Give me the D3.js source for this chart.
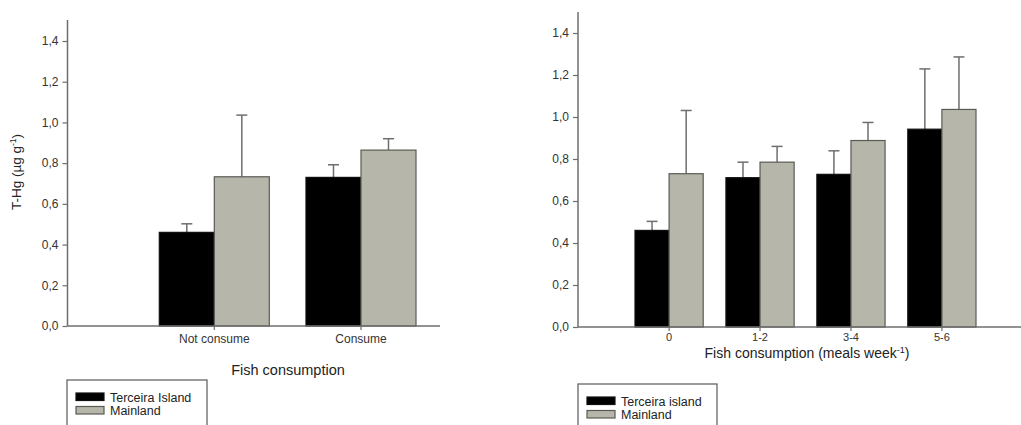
<!DOCTYPE html>
<html><head><meta charset="utf-8">
<script src="https://cdn.jsdelivr.net/npm/d3@7"></script>
<style>
body{margin:0;background:#fff;}
svg{display:block;font-family:"Liberation Sans",Arial,sans-serif;}
</style></head>
<body>
<svg id="chart" width="1021" height="425"></svg>
<script>
// ---- data ----
const seriesNames = ["Terceira Island", "Mainland"];
const seriesNamesRight = ["Terceira island", "Mainland"];
const yTicks = [0, 0.2, 0.4, 0.6, 0.8, 1.0, 1.2, 1.4];

const leftCategories = ["Not consume", "Consume"];
const leftTerceira = [0.46, 0.73];
const leftTerceiraErr = [0.042, 0.062];
const leftMainland = [0.733, 0.864];
const leftMainlandErr = [0.303, 0.056];

const rightCategories = ["0", "1-2", "3-4", "5-6"];
const rightTerceira = [0.46, 0.711, 0.727, 0.942];
const rightTerceiraErr = [0.043, 0.074, 0.112, 0.287];
const rightMainland = [0.73, 0.785, 0.888, 1.036];
const rightMainlandErr = [0.301, 0.075, 0.086, 0.25];

// ---- styles ----
const fills = ["#000000", "#b6b6aa"];
const axisColor = "#6e6e6e";
const fmt = d => d3.format(".1f")(d).replace(".", ",");

const svg = d3.select("#chart");

function panel(cfg) {
  const g = svg.append("g");
  const y = d3.scaleLinear().domain([0, 1.4]).range([cfg.y0, cfg.y14]);
  const x = d3.scaleBand().domain(cfg.categories).range([cfg.barL, cfg.barR])
    .paddingInner(0.25).paddingOuter(0);
  const xs = d3.scaleBand().domain([0, 1]).range([0, x.bandwidth()]);

  const rows = [];
  cfg.categories.forEach((c, i) => {
    rows.push({c, s: 0, v: cfg.terceira[i], e: cfg.terceiraErr[i]});
    rows.push({c, s: 1, v: cfg.mainland[i], e: cfg.mainlandErr[i]});
  });

  // error bars (upper)
  const eb = g.append("g").attr("stroke", axisColor).attr("stroke-width", 1.5);
  rows.forEach(r => {
    const cx = x(r.c) + xs(r.s) + xs.bandwidth() / 2;
    eb.append("line").attr("x1", cx).attr("x2", cx).attr("y1", y(r.v)).attr("y2", y(r.v + r.e));
    eb.append("line").attr("x1", cx - 5.5).attr("x2", cx + 5.5).attr("y1", y(r.v + r.e)).attr("y2", y(r.v + r.e));
  });

  // bars
  g.append("g").selectAll("rect").data(rows).join("rect")
    .attr("x", r => x(r.c) + xs(r.s))
    .attr("y", r => y(r.v))
    .attr("width", xs.bandwidth())
    .attr("height", r => y(0) - y(r.v))
    .attr("fill", r => fills[r.s])
    .attr("stroke", r => r.s === 0 ? "#111" : "#5a5a55")
    .attr("stroke-width", 1.2);

  // y axis
  const ya = g.append("g").attr("transform", `translate(${cfg.axisX},0)`)
    .call(d3.axisLeft(y).tickValues(yTicks).tickFormat(fmt).tickSize(5).tickPadding(4));
  ya.select(".domain").remove();
  ya.append("line").attr("x1", 0).attr("x2", 0).attr("y1", cfg.axisTop).attr("y2", cfg.y0)
    .attr("stroke", axisColor).attr("stroke-width", 1.5);
  ya.selectAll(".tick line").attr("stroke", axisColor).attr("stroke-width", 1.2);
  ya.selectAll(".tick text").attr("fill", "#333").style("font-size", "12px")
    .style("font-family", "'Liberation Sans',Arial,sans-serif");

  // x axis
  const xa = g.append("g").attr("transform", `translate(0,${cfg.y0})`)
    .call(d3.axisBottom(x).tickSize(4).tickPadding(cfg.xTickPad));
  xa.select(".domain").remove();
  xa.append("line").attr("x1", cfg.axisX).attr("x2", cfg.axisRight).attr("y1", 0).attr("y2", 0)
    .attr("stroke", axisColor).attr("stroke-width", 1.5);
  xa.selectAll(".tick line").attr("stroke", axisColor).attr("stroke-width", 1.2);
  xa.selectAll(".tick text").attr("fill", "#333").style("font-size", cfg.xTickSize)
    .style("font-family", "'Liberation Sans',Arial,sans-serif");

  // legend
  const lg = g.append("g");
  lg.append("rect").attr("x", cfg.legX).attr("y", cfg.legY).attr("width", cfg.legW).attr("height", 70)
    .attr("fill", "#fff").attr("stroke", "#666").attr("stroke-width", 1.3);
  cfg.legNames.forEach((n, i) => {
    lg.append("rect").attr("x", cfg.legX + 9).attr("y", cfg.legY + 13 + i * 13.5)
      .attr("width", 28).attr("height", 7.5)
      .attr("fill", fills[i]).attr("stroke", i ? "#5a5a55" : "#111").attr("stroke-width", 1.2);
    lg.append("text").attr("x", cfg.legX + 43).attr("y", cfg.legY + 21.5 + i * 13.5)
      .attr("fill", "#222").style("font-size", "12.5px").text(n);
  });
  return {g, x, y};
}

const L = panel({
  categories: leftCategories, terceira: leftTerceira, terceiraErr: leftTerceiraErr,
  mainland: leftMainland, mainlandErr: leftMainlandErr,
  y0: 326, y14: 41, axisTop: 20, axisX: 67.5, axisRight: 440,
  barL: 159.3, barR: 416, xTickSize: "12px", xTickPad: 4,
  legX: 67, legY: 380, legW: 140, legNames: seriesNames
});
const R = panel({
  categories: rightCategories, terceira: rightTerceira, terceiraErr: rightTerceiraErr,
  mainland: rightMainland, mainlandErr: rightMainlandErr,
  y0: 327, y14: 33, axisTop: 12, axisX: 578, axisRight: 1021,
  barL: 635, barR: 976, xTickSize: "11px", xTickPad: 2,
  legX: 578, legY: 384, legW: 139, legNames: seriesNamesRight
});

// axis titles
svg.append("text").attr("x", 288).attr("y", 375).attr("text-anchor", "middle")
  .attr("fill", "#222").style("font-size", "14.5px").text("Fish consumption");

const rt = svg.append("text").attr("x", 807).attr("y", 357.5).attr("text-anchor", "middle")
  .attr("fill", "#222").style("font-size", "14px");
rt.append("tspan").text("Fish consumption (meals week");
rt.append("tspan").attr("dy", -5).style("font-size", "9px").text("-1");
rt.append("tspan").attr("dy", 5).text(")");

const yt = svg.append("text").attr("transform", "translate(21,172) rotate(-90)")
  .attr("text-anchor", "middle").attr("fill", "#222").style("font-size", "13.5px");
yt.append("tspan").text("T-Hg (µg g");
yt.append("tspan").attr("dy", -5).style("font-size", "8.5px").text("-1");
yt.append("tspan").attr("dy", 5).text(")");
</script>
</body></html>
